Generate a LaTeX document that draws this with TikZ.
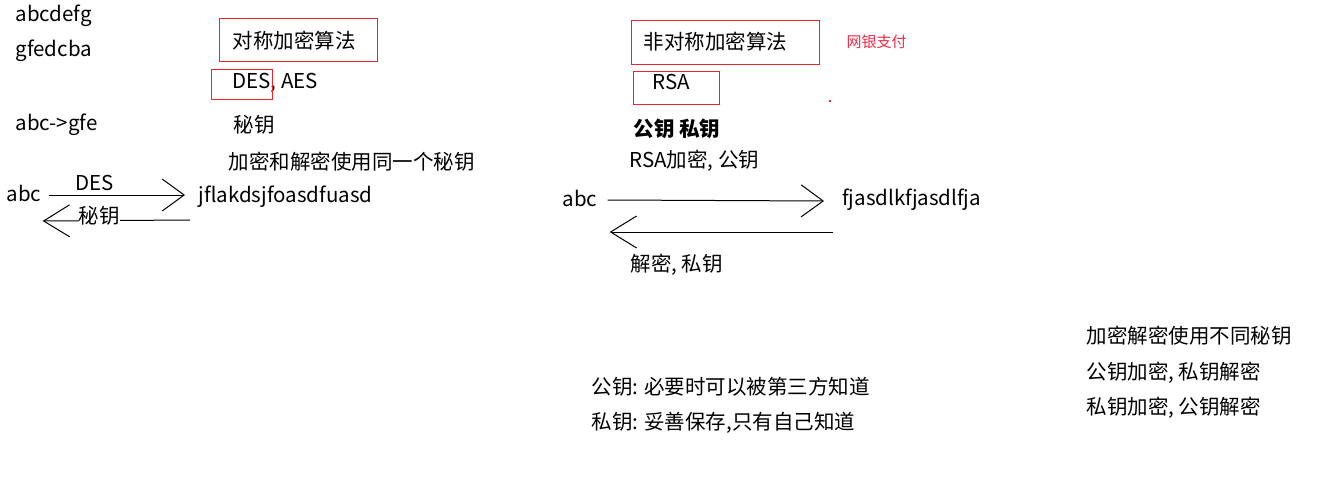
\documentclass[tikz,border=0pt]{standalone}
\usepackage{fontspec}
\setmainfont{Noto Sans CJK SC}
\usetikzlibrary{arrows.meta}
\definecolor{boxred}{RGB}{232,38,48}
\definecolor{notered}{RGB}{240,40,70}

\begin{document}
\begin{tikzpicture}[x=1pt, y=-1pt, line width=1pt,
    txt/.style = {anchor=west, inner sep=0pt, font=\fontsize{20.5}{24}\selectfont},
    redbox/.style = {draw=boxred, line width=1pt},
    fwd/.style = {-{Straight Barb[length=22pt, width=32pt, line width=1pt]}},
    back/.style = {-{Straight Barb[length=26pt, width=32pt, line width=1pt]}}]
    \useasboundingbox (0,0) rectangle (1323,479);

    % 左边: 对称加密
    \node[txt] (s1) at (15,16) {abcdefg};
    \node[txt] (s2) at (15,51) {gfedcba};
    \node[txt] (s3) at (15,125) {abc->gfe};
    \node[txt] (symT) at (232,41) {对称加密算法};
    \draw[redbox] (219,18) rectangle (377,61);
    \node[txt] (symA) at (232,83) {DES, AES};
    \draw[redbox] (211,69) rectangle (272,99);
    \node[txt] (symK) at (233,125) {秘钥};
    \node[txt] (symD) at (228,162) {加密和解密使用同一个秘钥};
    \node[txt] (abcL) at (6,193) {abc};
    \node[txt] (cipL) at (198,197) {jflakdsjfoasdfuasd};
    \node[txt] (desL) at (75,183) {DES};

    % 箭头
    \draw[fwd] ([xshift=7pt, yshift=-2pt]abcL.east) -- ([xshift=-13pt, yshift=2pt]cipL.west);
    \draw[back] ([xshift=-8pt, yshift=-23pt]cipL.west) --
        node[txt, pos=0.76, yshift=5pt, fill=white] (keyL) {秘钥}
        ([xshift=1pt, yshift=-28pt]abcL.east);

    % 右边: 非对称加密
    \node[txt] (asyT) at (643,42) {非对称加密算法};
    \draw[redbox] (631,20) rectangle (819,64);
    \node[txt, font=\fontsize{15}{18}\selectfont, text=notered] (bank) at (846,42) {网银支付};
    \node[txt] (rsa) at (652,82) {RSA};
    \draw[redbox] (633,71) rectangle (719,104);
    \fill[boxred] (829,100) rectangle (831,102);
    \node[txt, font=\fontsize{20.5}{24}\selectfont\bfseries] (keys) at (633,129) {公钥 私钥};
    \node[txt] (rsaE) at (629,161) {RSA加密, 公钥};
    \node[txt] (abcR) at (562,198) {abc};
    \node[txt] (cipR) at (842,200) {fjasdlkfjasdlfja};
    \node[txt] (decR) at (630,265) {解密, 私钥};

    % 箭头
    \draw[fwd] ([xshift=10pt, yshift=-2pt]abcR.east) -- ([xshift=-18pt, yshift=-1pt]cipR.west);
    \draw[back] ([xshift=-9pt, yshift=-32pt]cipR.west) -- ([xshift=12pt, yshift=-34pt]abcR.east);

    % 说明
    \node[txt] (pubN) at (591,387) {公钥: 必要时可以被第三方知道};
    \node[txt] (priN) at (591,423) {私钥: 妥善保存,只有自己知道};
    \node[txt] (diff) at (1086,336) {加密解密使用不同秘钥};
    \node[txt] (pubE) at (1086,373) {公钥加密, 私钥解密};
    \node[txt] (priE) at (1086,408) {私钥加密, 公钥解密};

\end{tikzpicture}
\end{document}
